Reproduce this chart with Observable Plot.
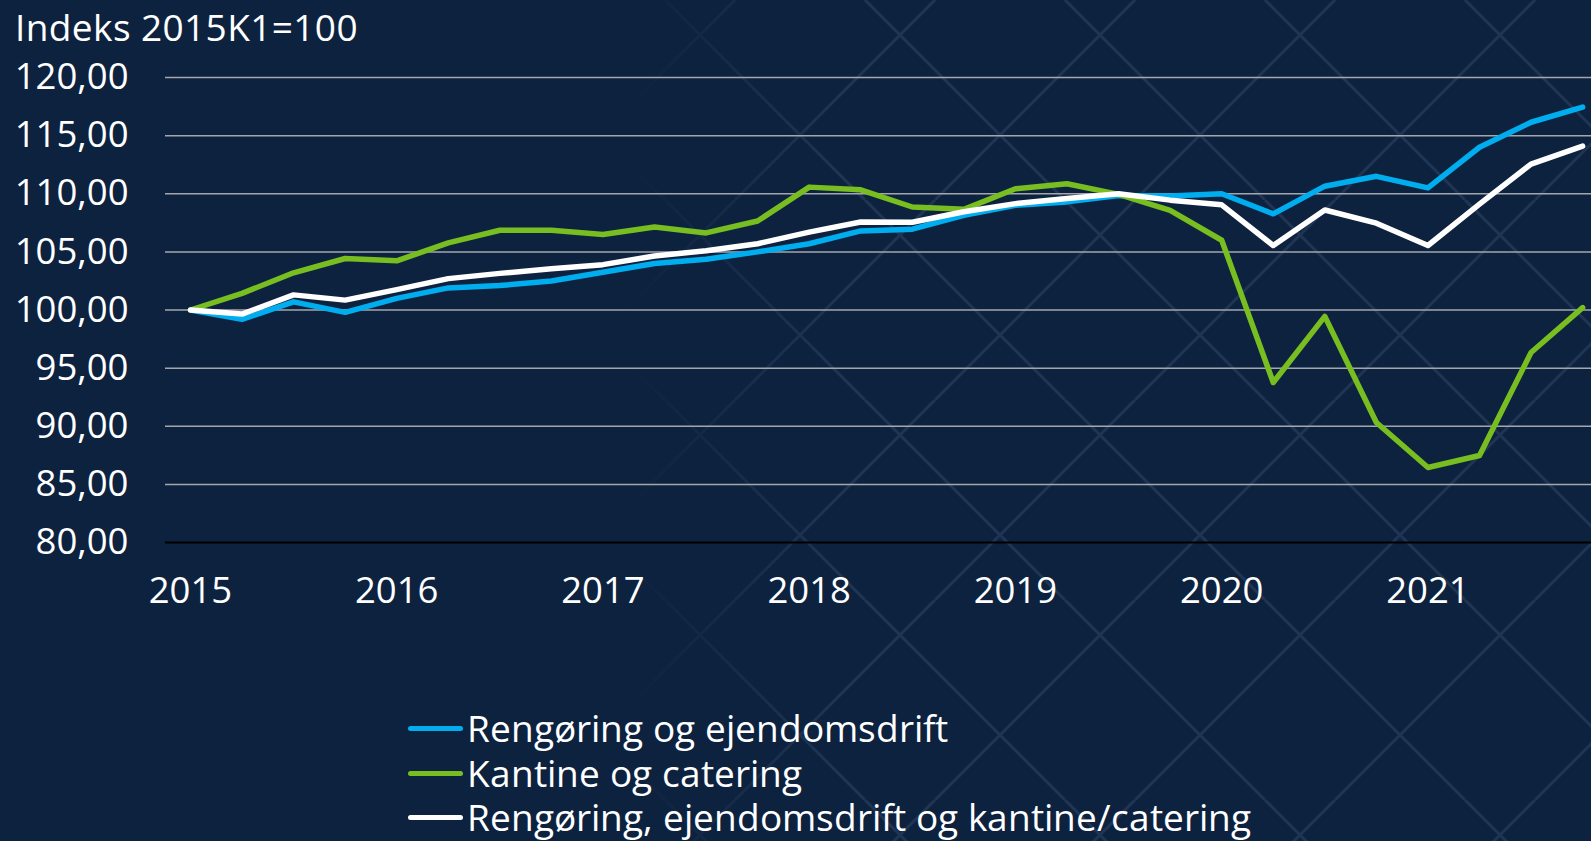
<!DOCTYPE html>
<html>
<head>
<meta charset="utf-8">
<script src="https://cdn.jsdelivr.net/npm/d3@7"></script>
<script src="https://cdn.jsdelivr.net/npm/@observablehq/plot@0.6"></script>
<style>
  @font-face {
    font-family: "LegendSans";
    src: local("Open Sans Regular"), local("OpenSans-Regular"), local("Open Sans");
    ascent-override: 95%;
    descent-override: 17%;
    line-gap-override: 0%;
  }
  html, body { margin: 0; padding: 0; }
  body {
    width: 1591px; height: 841px; overflow: hidden; position: relative;
    background: #0d223f; font-family: "Open Sans", Lato, sans-serif; color: #fff;
  }
  #pattern {
    position: absolute; left: 620px; top: 0; width: 971px; height: 841px;
    background-image: url("data:image/svg+xml;utf8,<svg xmlns='http://www.w3.org/2000/svg' width='200' height='200'><g stroke='%23203553' stroke-width='3' fill='none'><line x1='0' y1='135' x2='135' y2='0'/><line x1='135' y1='200' x2='200' y2='135'/><line x1='65' y1='0' x2='200' y2='135'/><line x1='0' y1='135' x2='65' y2='200'/></g></svg>");
    background-position: -620px 0;
    -webkit-mask-image: linear-gradient(to right, transparent 0, #000 220px);
    mask-image: linear-gradient(to right, transparent 0, #000 220px);
  }
  #title { position: absolute; left: 15px; top: 8px; font-size: 37px; line-height: 37px; letter-spacing: 0.4px; white-space: nowrap; }
  #chart { position: absolute; left: 0; top: 57px; }
  #legend { position: absolute; left: 408px; top: 706px; }
  .item { position: relative; padding-left: 59px; height: 44.5px; line-height: 44.5px; font-family: "LegendSans", "Open Sans", sans-serif; font-size: 36.5px; letter-spacing: 0; white-space: nowrap; }
  .item::before { content: ""; position: absolute; left: 0; top: 20px; width: 55px; height: 5px; border-radius: 3px; background: var(--c); }
</style>
</head>
<body>
<div id="pattern"></div>
<div id="title">Indeks 2015K1=100</div>
<div id="chart"></div>
<div id="legend"></div>
<script>
const quarters = ["2015K1","2015K2","2015K3","2015K4","2016K1","2016K2","2016K3","2016K4",
  "2017K1","2017K2","2017K3","2017K4","2018K1","2018K2","2018K3","2018K4",
  "2019K1","2019K2","2019K3","2019K4","2020K1","2020K2","2020K3","2020K4",
  "2021K1","2021K2","2021K3","2021K4"];
const seriesNames = ["Rengøring og ejendomsdrift", "Kantine og catering", "Rengøring, ejendomsdrift og kantine/catering"];
const seriesColors = ["#00aeef", "#78be20", "#ffffff"];
const rengoring = [100, 99.2, 100.7, 99.8, 101.0, 101.9, 102.1, 102.5, 103.25, 104.0, 104.37, 105.0, 105.7, 106.8, 106.95, 108.15, 109.0, 109.3, 109.85, 109.8, 110.0, 108.27, 110.65, 111.5, 110.5, 114.0, 116.15, 117.45];
const kantine = [100, 101.43, 103.2, 104.43, 104.23, 105.77, 106.86, 106.86, 106.5, 107.14, 106.63, 107.66, 110.57, 110.34, 108.86, 108.66, 110.43, 110.86, 109.95, 108.57, 106.0, 93.76, 99.45, 90.32, 86.45, 87.48, 96.34, 100.2];
const samlet = [100, 99.65, 101.3, 100.85, 101.75, 102.7, 103.15, 103.55, 103.9, 104.65, 105.1, 105.7, 106.7, 107.57, 107.55, 108.45, 109.15, 109.6, 110.0, 109.45, 109.05, 105.55, 108.6, 107.47, 105.55, 109.1, 112.55, 114.1];
const yTicks = [80, 85, 90, 95, 100, 105, 110, 115, 120];
const xTicks = [2015, 2016, 2017, 2018, 2019, 2020, 2021];

const qx = q => +q.slice(0, 4) + (+q.slice(5) - 1) / 4;
const seriesValues = [rengoring, kantine, samlet];
const data = seriesValues.flatMap((vals, s) =>
  vals.map((v, i) => ({series: seriesNames[s], x: qx(quarters[i]), y: v})));

const chart = Plot.plot({
  width: 1591,
  height: 565,
  marginTop: 20,
  marginBottom: 80,
  marginLeft: 165,
  marginRight: 0,
  style: {background: "transparent", color: "#fff", fontSize: "36.5px", fontFamily: "'Open Sans', Lato, sans-serif", overflow: "visible"},
  x: {domain: [2014.879, 2021.793], ticks: xTicks, tickFormat: d => String(d), tickSize: 0, tickPadding: 35, label: null},
  y: {domain: [80, 120], ticks: yTicks, tickFormat: d => d.toFixed(2).replace(".", ","), tickSize: 0, tickPadding: 37, label: null},
  color: {domain: seriesNames, range: seriesColors},
  marks: [
    Plot.ruleY(yTicks.filter(t => t > 80), {stroke: "#a3a7ad", strokeWidth: 1.5}),
    Plot.ruleY([80], {stroke: "#000", strokeWidth: 2}),
    Plot.line(data, {x: "x", y: "y", z: "series", stroke: "series", strokeWidth: 5.5})
  ]
});
document.getElementById("chart").appendChild(chart);

const legend = document.getElementById("legend");
seriesNames.forEach((n, i) => {
  const row = document.createElement("div");
  row.className = "item";
  row.style.setProperty("--c", seriesColors[i]);
  row.textContent = n;
  legend.appendChild(row);
});
</script>
</body>
</html>
